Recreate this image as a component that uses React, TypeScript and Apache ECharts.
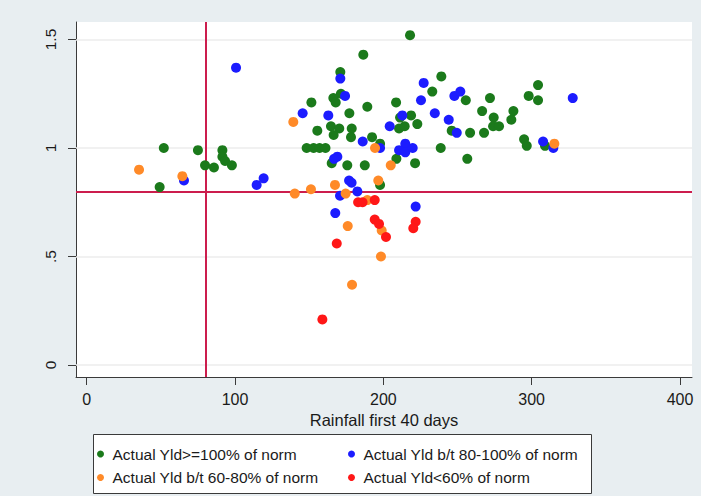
import React, { useEffect, useRef } from "react";
import * as echarts from "echarts";

// ---- data ----
const seriesNames = [
  "Actual Yld>=100% of norm",
  "Actual Yld b/t 80-100% of norm",
  "Actual Yld b/t 60-80% of norm",
  "Actual Yld<60% of norm",
];

const greenPts: [number, number][] = [
  [52, 1.0], [75, 0.99], [91.5, 0.99], [91.5, 0.96], [93.3, 0.94], [97.9, 0.92],
  [79.8, 0.92], [85.8, 0.91], [49.2, 0.82], [151.5, 1.21], [218, 1.52], [186.5, 1.43],
  [171, 1.35], [171.4, 1.25], [239.1, 1.33], [233, 1.26], [255.6, 1.22], [271.9, 1.23],
  [304.3, 1.29], [298, 1.24], [304.3, 1.22], [208.6, 1.21], [166.3, 1.23], [167.9, 1.21],
  [189.2, 1.19], [177.1, 1.16], [266.6, 1.17], [287.7, 1.17], [218.7, 1.15], [211.3, 1.14],
  [274.4, 1.14], [286.3, 1.13], [164.7, 1.1], [170.3, 1.09], [166.5, 1.06], [178.7, 1.09],
  [155.5, 1.08], [210.6, 1.09], [214.4, 1.1], [222.9, 1.11], [274, 1.1], [278, 1.1],
  [178.2, 1.05], [192.4, 1.05], [197.8, 1.02], [246.1, 1.08], [258.5, 1.07], [267.9, 1.07],
  [238.7, 1.0], [294.9, 1.04], [296.7, 1.01], [309, 1.01], [148.3, 1.0], [153, 1.0],
  [157, 1.0], [161, 1.0], [165.2, 0.93], [175.7, 0.92], [187.5, 0.92], [208.8, 0.95],
  [221.4, 0.93], [256.6, 0.95], [197.8, 0.83],
];

const bluePts: [number, number][] = [
  [100.7, 1.37], [65.6, 0.85], [114.6, 0.83], [119.3, 0.86], [145.6, 1.16], [171, 1.32],
  [174.2, 1.24], [227.2, 1.3], [247.9, 1.24], [251.9, 1.26], [327.7, 1.23], [225.4, 1.22],
  [162.9, 1.15], [234.7, 1.16], [212.8, 1.15], [244.1, 1.13], [204.3, 1.1], [186.1, 1.03],
  [197.8, 1.0], [249.5, 1.07], [214.8, 1.02], [210.6, 0.99], [214.8, 0.98], [219.8, 1.0],
  [307.7, 1.03], [314.6, 1.0], [169, 0.96], [166.8, 0.95], [176.9, 0.85], [178.6, 0.84],
  [182.5, 0.8], [170.8, 0.78], [221.8, 0.73], [167.6, 0.7],
];

const orangePts: [number, number][] = [
  [35.3, 0.9], [64.5, 0.87], [139.3, 1.12], [140.3, 0.79], [151.2, 0.81], [194.4, 1.0],
  [315.3, 1.02], [205, 0.92], [196.6, 0.85], [167.4, 0.83], [174.6, 0.79], [189.2, 0.76],
  [198.9, 0.62], [176, 0.64], [198.4, 0.5], [178.9, 0.37],
];

const redPts: [number, number][] = [
  [183, 0.75], [186, 0.75], [194.2, 0.76], [194.2, 0.67], [197.1, 0.65], [201.8, 0.59],
  [221.8, 0.66], [220.2, 0.63], [168.6, 0.56], [158.9, 0.21],
];

const xTicks = [0, 100, 200, 300, 400];
const yTicks = [0, 0.5, 1, 1.5];
const yTickLabels = ["0", ".5", "1", "1.5"];
const refX = 80;
const refY = 0.8;
const xTitle = "Rainfall first 40 days";

const colors = ["#1b7a1b", "#1c1cff", "#ff8a28", "#ff1717"];
const refColor = "#cc1d4d";
const FONT = "'Liberation Sans', Arial, Helvetica, sans-serif";

export default function App() {
  const ref = useRef<HTMLDivElement>(null);
  useEffect(() => {
    if (!ref.current) return;
    const chart = echarts.init(ref.current, undefined, { renderer: "svg" });
    const pts = [greenPts, bluePts, orangePts, redPts];
    const legendCommon = {
      orient: "vertical" as const,
      top: 445,
      itemWidth: 14,
      itemHeight: 7,
      itemGap: 5.5,
      padding: 0,
      icon: "circle",
      symbolKeepAspect: true,
      selectedMode: false,
      textStyle: { fontSize: 15.5, color: "#1a1a1a", lineHeight: 18, fontFamily: FONT },
    };
    chart.setOption({
      animation: false,
      backgroundColor: "#e8eef1",
      textStyle: { fontFamily: FONT },
      grid: {
        left: 76,
        right: 9,
        top: 22,
        bottom: 119,
        show: true,
        backgroundColor: "#ffffff",
        borderWidth: 0,
      },
      xAxis: {
        type: "value",
        min: -7.2,
        max: 408.1,
        name: xTitle,
        nameLocation: "middle",
        nameGap: 27,
        nameTextStyle: { fontSize: 16.5, color: "#1a1a1a", fontFamily: FONT },
        axisLine: { show: true, onZero: false, lineStyle: { color: "#3a3a3a", width: 1 } },
        axisTick: { show: true, length: 8, customValues: xTicks, lineStyle: { color: "#3a3a3a" } },
        axisLabel: { customValues: xTicks, fontSize: 16, color: "#1a1a1a", margin: 14, fontFamily: FONT },
        splitLine: { show: false },
      },
      yAxis: {
        type: "value",
        min: -0.0553,
        max: 1.5806,
        axisLine: { show: true, onZero: false, lineStyle: { color: "#3a3a3a", width: 1 } },
        axisTick: { show: true, length: 8, customValues: yTicks, lineStyle: { color: "#3a3a3a" } },
        axisLabel: {
          customValues: yTicks,
          rotate: 90,
          fontSize: 15.5,
          color: "#1a1a1a",
          margin: 18,
          fontFamily: FONT,
          formatter: (v: number) => {
            const i = yTicks.indexOf(v);
            return i >= 0 ? yTickLabels[i] : "";
          },
        },
        splitLine: { show: false },
      },
      legend: [
        { ...legendCommon, left: 97, data: [seriesNames[0], seriesNames[2]] },
        { ...legendCommon, left: 348, data: [seriesNames[1], seriesNames[3]] },
      ],
      graphic: [
        {
          type: "rect",
          z: 0,
          shape: { x: 93.5, y: 434.5, width: 498, height: 59 },
          style: { fill: "#ffffff", stroke: "#3a3a3a", lineWidth: 1 },
        },
      ],
      series: [
        {
          type: "scatter",
          name: "__lines",
          data: [],
          z: 1,
          silent: true,
          markLine: {
            silent: true,
            symbol: "none",
            z: 1,
            label: { show: false },
            data: [
              ...yTicks.map((v) => ({
                yAxis: v,
                lineStyle: { color: "#ececec", width: 1.5, type: "solid" },
              })),
              { xAxis: refX, lineStyle: { color: refColor, width: 2, type: "solid" } },
              { yAxis: refY, lineStyle: { color: refColor, width: 2, type: "solid" } },
            ],
          },
        },
        ...pts.map((d, i) => ({
          type: "scatter",
          name: seriesNames[i],
          data: d,
          symbol: "circle",
          symbolSize: 10,
          z: 10,
          itemStyle: { color: colors[i], opacity: 1 },
        })),
      ],
    });
    return () => chart.dispose();
  }, []);
  return (
    <div
      ref={ref}
      style={{ position: "fixed", left: 0, top: 0, width: 701, height: 496 }}
    />
  );
}
